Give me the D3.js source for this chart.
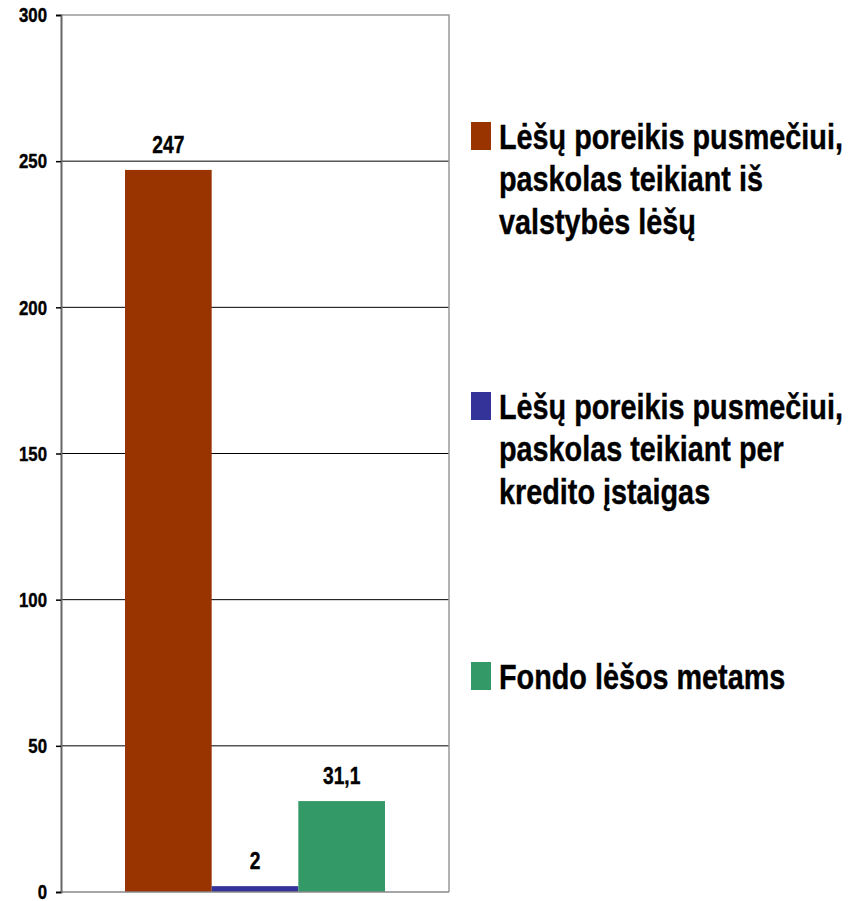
<!DOCTYPE html>
<meta charset="utf-8">
<style>
body { margin: 0; background: #fff; }
text { font-family: "Liberation Sans", Arial, sans-serif; font-weight: bold; fill: #000; stroke: #000; stroke-width: 0.4px; }
.grid line { stroke: #000; stroke-width: 1; }
</style>
<body>
<script src="https://d3js.org/d3.v7.min.js"></script>
<script>

var width = 859;
var height = 901;

// data
var series = ['Lėšų poreikis pusmečiui, paskolas teikiant iš valstybės lėšų',
              'Lėšų poreikis pusmečiui, paskolas teikiant per kredito įstaigas',
              'Fondo lėšos metams'];
var values = [247, 2, 31.1];
var valueLabels = ['247', '2', '31,1'];
var colors = ['#993300', '#333399', '#339966'];
var ticks = [0, 50, 100, 150, 200, 250, 300];
var legendLines = [
  ['Lėšų poreikis pusmečiui,', 'paskolas teikiant iš', 'valstybės lėšų'],
  ['Lėšų poreikis pusmečiui,', 'paskolas teikiant per', 'kredito įstaigas'],
  ['Fondo lėšos metams']
];

var plot = {left: 61, right: 449, top: 15, bottom: 892};

// no narrow font installed, so squeeze text horizontally
var narrow = 0.8;

var svg = d3.select('body').append('svg')
  .attr('width', width)
  .attr('height', height);

var y = d3.scaleLinear().domain([0, 300]).range([plot.bottom, plot.top]);
var x = d3.scaleBand().domain(series)
  .range([125, 385]).padding(0);

// gridlines
svg.append('g').attr('class', 'grid')
  .selectAll('line').data(ticks.filter(d => d > 0 && d < 300)).enter()
  .append('line')
  .attr('x1', plot.left).attr('x2', plot.right)
  .attr('y1', d => y(d)).attr('y2', d => y(d));

// frame: top and right grey
svg.append('path')
  .attr('d', 'M' + plot.left + ',' + y(300) + 'H' + plot.right + 'V' + y(0))
  .attr('fill', 'none').attr('stroke', '#999').attr('stroke-width', 1.5);

// bars
svg.selectAll('.bar').data(values).enter()
  .append('rect')
  .attr('class', 'bar')
  .attr('x', (d, i) => x(series[i]))
  .attr('width', x.bandwidth())
  .attr('y', d => y(d))
  .attr('height', d => y(0) - y(d))
  .attr('fill', (d, i) => colors[i]);

// bottom line
svg.append('line')
  .attr('x1', plot.left).attr('x2', plot.right)
  .attr('y1', y(0)).attr('y2', y(0))
  .attr('stroke', '#888').attr('stroke-width', 1.5);

// y axis
var yAxis = svg.append('g')
  .attr('transform', 'translate(' + plot.left + ',0)')
  .call(d3.axisLeft(y).tickValues(ticks).tickSize(5).tickPadding(14).tickFormat(d3.format('d')));
yAxis.select('.domain').attr('stroke', '#666').attr('stroke-width', 2);
yAxis.selectAll('.tick line').attr('stroke', '#000').attr('stroke-width', 1.5);
yAxis.selectAll('.tick text')
  .attr('font-size', 21).attr('font-family', null).attr('fill', '#000')
  .attr('x', -14 / narrow)
  .attr('transform', 'scale(' + narrow + ',1)');

// value labels
svg.selectAll('.vlabel').data(values).enter()
  .append('text')
  .attr('class', 'vlabel')
  .attr('transform', (d, i) => 'translate(' + (x(series[i]) + x.bandwidth() / 2) + ',' + (y(d) - 17) + ') scale(' + narrow + ',1)')
  .attr('text-anchor', 'middle')
  .attr('font-size', 24)
  .text((d, i) => valueLabels[i]);

// legend
var legendTops = [122, 392, 662];
var legend = svg.selectAll('.legend').data(legendLines).enter()
  .append('g')
  .attr('class', 'legend')
  .attr('transform', (d, i) => 'translate(471,' + legendTops[i] + ')');

legend.append('rect')
  .attr('width', 20).attr('height', 28)
  .attr('fill', (d, i) => colors[i]);

legend.each(function(lines) {
  var t = d3.select(this).append('text')
    .attr('transform', 'translate(28,0) scale(' + narrow + ',1)')
    .attr('font-size', 36);
  lines.forEach((l, j) => {
    t.append('tspan').attr('x', 0).attr('y', 27 + j * 42.5).text(l);
  });
});

</script>
</body>
</html>
